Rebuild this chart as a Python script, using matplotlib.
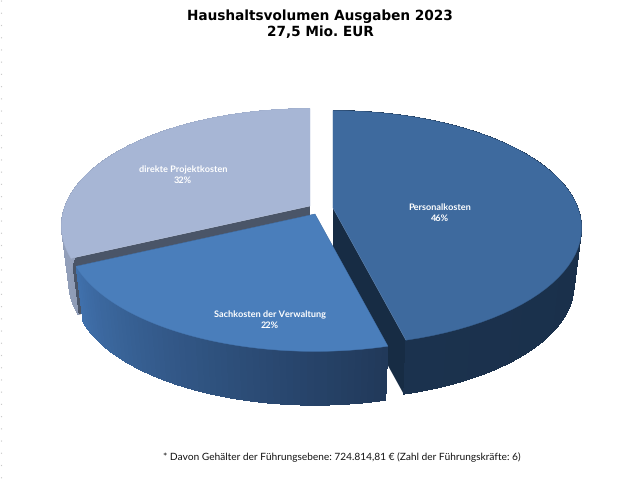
import numpy as np
import matplotlib
matplotlib.use("Agg")
import matplotlib.pyplot as plt
from matplotlib.collections import PolyCollection
from matplotlib.colors import to_rgb

plt.rcParams["text.hinting"] = "no_hinting"

# Daten
kategorien = ["Personalkosten", "Sachkosten der Verwaltung", "direkte Projektkosten"]
anteile = [46, 22, 32]
titel = "Haushaltsvolumen Ausgaben 2023\n27,5 Mio. EUR"
fussnote = "* Davon Gehälter der Führungsebene: 724.814,81 € (Zahl der Führungskräfte: 6)"

# Layout (Pixel)
mitten = [(333, 208), (315, 214), (310, 206)]
label_pos = [(440, 213), (270, 320), (183, 175)]
R = 245
RY = 114
K = 0.17
TIEFE = 58
UNTEN = 0.97

farbe_oben = ["#3e6a9e", "#4a7ebb", "#a7b6d5"]
farbe_rand = [("#182c44", "#1b324e"), ("#21395a", "#4070ab"), ("#8f9cb6", "#a0aecb")]
farbe_schnitt = ["#172c44", "#21395a", "#4a5568"]


def projekt(w, r=1.0):
    # Kreis auf der Tischplatte -> Bildkoordinaten relativ zur Mitte
    u = r * np.sin(w)
    v = -r * np.cos(w)
    d = 1 - K * v
    return R * u / d, RY * v / d


def zeichne_stueck(ax, mitte, w0, w1, oben, rand, schnitt):
    cx, cy = mitte
    w = np.linspace(w0, w1, 60)
    x, y = projekt(w)
    ox, oy = cx + x, cy + y
    ux, uy = cx + x * UNTEN, cy + y * UNTEN + TIEFE

    # Schnittflaechen
    for i in (0, -1):
        ax.fill(
            [cx, ox[i], ux[i], cx],
            [cy, oy[i], uy[i], cy + TIEFE],
            color=schnitt,
            lw=0,
        )

    # Aussenrand mit Verlauf, darunter eine glatte Flaeche gegen Streifen
    c0, c1 = np.array(to_rgb(rand[0])), np.array(to_rgb(rand[1]))
    ax.fill(np.r_[ox, ux[::-1]], np.r_[oy, uy[::-1]], color=(c0 + c1) / 2, lw=0)
    quads = []
    farben = []
    for i in range(len(w) - 1):
        quads.append(
            [(ox[i], oy[i]), (ox[i + 1], oy[i + 1]), (ux[i + 1], uy[i + 1]), (ux[i], uy[i])]
        )
        t = i / (len(w) - 2)
        farben.append(c0 + (c1 - c0) * t)
    ax.add_collection(PolyCollection(quads, facecolors=farben, edgecolors="none", antialiaseds=False))

    # Deckel
    ax.fill(np.r_[cx, ox], np.r_[cy, oy], color=oben, lw=0.3)


fig = plt.figure(figsize=(6.39, 4.8), dpi=100)
ax = fig.add_axes([0, 0, 1, 1])
ax.set_xlim(0, 639)
ax.set_ylim(480, 0)
ax.axis("off")

winkel = np.r_[0, np.cumsum(anteile)] / sum(anteile) * 2 * np.pi

for n in [2, 0, 1]:
    zeichne_stueck(ax, mitten[n], winkel[n], winkel[n + 1], farbe_oben[n], farbe_rand[n], farbe_schnitt[n])

for n in range(len(kategorien)):
    ax.text(
        label_pos[n][0],
        label_pos[n][1],
        "%s\n%d%%" % (kategorien[n], anteile[n]),
        color="white",
        family="Lato",
        weight="bold",
        fontsize=6.6,
        ha="center",
        va="center",
        linespacing=1.4,
    )

ax.text(320, 24, titel, ha="center", va="center", family="DejaVu Sans", weight="bold",
        fontsize=9.85, color="black", linespacing=1.2)
ax.text(342, 457, fussnote, ha="center", va="center", family="Lato", fontsize=7.3, color="#111111")

# punktierte Kante links im Original
ax.plot([0.5, 0.5], [0, 480], color="#c8c8c8", lw=0.8, ls=(0, (1, 10)))

fig.savefig("out.png", dpi=100)
